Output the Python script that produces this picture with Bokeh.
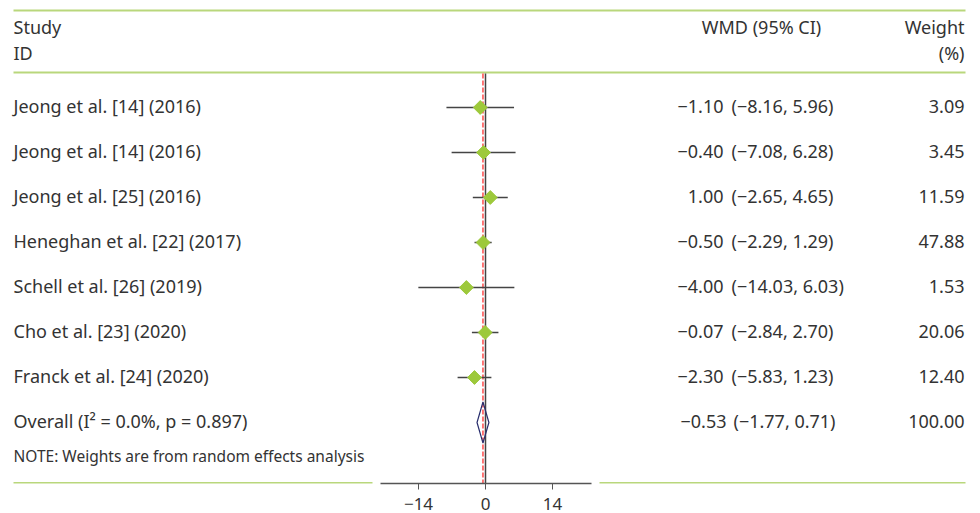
from bokeh.plotting import figure
from bokeh.models import Range1d, FixedTicker, ColumnDataSource
from bokeh.core.properties import value
from bokeh.embed import file_html
from bokeh.resources import INLINE

# ---- data ----
studies = ["Jeong et al. [14] (2016)", "Jeong et al. [14] (2016)", "Jeong et al. [25] (2016)",
           "Heneghan et al. [22] (2017)", "Schell et al. [26] (2019)", "Cho et al. [23] (2020)",
           "Franck et al. [24] (2020)"]
wmd = [-1.10, -0.40, 1.00, -0.50, -4.00, -0.07, -2.30]
ci_low = [-8.16, -7.08, -2.65, -2.29, -14.03, -2.84, -5.83]
ci_high = [5.96, 6.28, 4.65, 1.29, 6.03, 2.70, 1.23]
weights = [3.09, 3.45, 11.59, 47.88, 1.53, 20.06, 12.40]
overall_label = "Overall (I\u00b2 = 0.0%, p = 0.897)"
overall_wmd = -0.53
overall_low = -1.77
overall_high = 0.71
overall_weight = 100.00
note = "NOTE: Weights are from random effects analysis"
x_ticks = [-14, 0, 14]

FONT = "Noto Sans"
TXT = "#333333"
GREEN = "#b9d77c"
MARK = "#9dc93b"

W, H = 980, 513
ORG = 0  # page offset of the figure
# layout helpers: page pixel -> data coords
X0, PXU = 485.0, 4.786  # page x of zero, px per unit
def dx(px):
    return (px - X0) / PXU
ROW0, ROWH = 107.0, 45.0
def dy(py):
    return (ROW0 - py) / ROWH

FRAME_BOTTOM = 483.0

def fmt(v):
    return f"{v:.2f}".replace("-", "\u2212")

p = figure(width=W, height=H, output_backend="svg", toolbar_location=None,
           x_range=Range1d(dx(ORG), dx(ORG + W)), y_range=Range1d(dy(FRAME_BOTTOM), dy(ORG)),
           min_border=0, min_border_left=0, min_border_right=0, min_border_top=0,
           min_border_bottom=int(ORG + H - FRAME_BOTTOM),
           y_axis_location=None, background_fill_color="white", border_fill_color="white")
p.outline_line_color = None
p.grid.visible = False

n = len(studies)
rows = [-i for i in range(n)]
ov_row = -n

# green rules
p.segment(x0=[dx(13), dx(13)], y0=[dy(10), dy(72)], x1=[dx(965), dx(965)], y1=[dy(10), dy(72)],
          line_color=GREEN, line_width=2)
yb = dy(FRAME_BOTTOM - 0.5)
p.segment(x0=[dx(13), dx(599)], y0=[yb, yb], x1=[dx(372), dx(965)], y1=[yb, yb],
          line_color=GREEN, line_width=2)

# vertical reference lines
p.segment(x0=[0], y0=[dy(73)], x1=[0], y1=[dy(FRAME_BOTTOM)], line_color="#444444", line_width=1.5)
p.segment(x0=[overall_wmd], y0=[dy(73)], x1=[overall_wmd], y1=[dy(FRAME_BOTTOM)],
          line_color="#ff4a4a", line_width=1.5, line_dash="5 2")

# CIs and markers
src = ColumnDataSource(dict(y=rows, wmd=wmd, lo=ci_low, hi=ci_high, study=studies,
                            est=[fmt(v) for v in wmd],
                            ci=[f"({fmt(a)}, {fmt(b)})" for a, b in zip(ci_low, ci_high)],
                            w=[fmt(v) for v in weights]))
p.segment(x0="lo", y0="y", x1="hi", y1="y", source=src, line_color="#444444", line_width=1.5)
p.scatter(x="wmd", y="y", source=src, marker="square", angle=0.7854, size=9.8,
          fill_color=MARK, line_color=MARK)

# overall diamond
hh = 20.5 / ROWH
p.patch(x=[overall_low, overall_wmd, overall_high, overall_wmd],
        y=[ov_row, ov_row + hh, ov_row, ov_row - hh],
        fill_color=None, line_color="#2a2f6e", line_width=1.2)

# text columns
FS = "18px"
common = dict(text_font=value(FONT), text_color=TXT, text_baseline="middle", text_font_size=FS,
              y_offset=-1.5)
p.text(x=value(dx(13)), y="y", text="study", source=src, text_align="left", **common)
p.text(x=value(dx(723)), y="y", text="est", source=src, text_align="right", **common)
p.text(x=value(dx(731)), y="y", text="ci", source=src, text_align="left", **common)
p.text(x=value(dx(964)), y="y", text="w", source=src, text_align="right", **common)

p.text(x=[dx(13)], y=[ov_row], text=[overall_label], text_align="left", **common)
p.text(x=[dx(726)], y=[ov_row], text=[fmt(overall_wmd)], text_align="right", **common)
p.text(x=[dx(733)], y=[ov_row], text=[f"({fmt(overall_low)}, {fmt(overall_high)})"], text_align="left", **common)
p.text(x=[dx(964)], y=[ov_row], text=[fmt(overall_weight)], text_align="right", **common)

p.text(x=[dx(13)], y=[dy(456)], text=[note], text_align="left", text_font=value(FONT),
       text_color=TXT, text_baseline="middle", text_font_size="15.5px", y_offset=-1)

# headers
p.text(x=[dx(13), dx(13)], y=[dy(28), dy(54)], text=["Study", "ID"], text_align="left", **common)
p.text(x=[dx(761)], y=[dy(28)], text=["WMD (95% CI)"], text_align="center", **common)
p.text(x=[dx(964), dx(964)], y=[dy(28), dy(54)], text=["Weight", "(%)"], text_align="right", **common)

# x axis
ax = p.xaxis[0]
ax.ticker = FixedTicker(ticks=x_ticks)
ax.bounds = (dx(380), dx(591))
ax.major_label_overrides = {t: fmt(t).replace(".00", "") for t in x_ticks}
ax.axis_line_color = "#555555"
ax.axis_line_width = 1.5
ax.major_tick_line_color = "#555555"
ax.major_tick_in = 0
ax.major_tick_out = 6
ax.minor_tick_line_color = None
ax.major_label_standoff = 8
ax.major_label_text_font = FONT
ax.major_label_text_font_size = "17px"
ax.major_label_text_color = TXT

open("out.html", "w").write(file_html(p, INLINE))
